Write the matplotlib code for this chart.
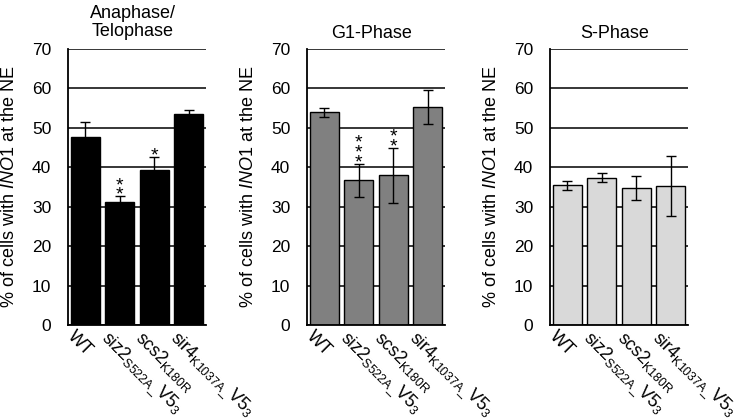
import matplotlib
matplotlib.use("Agg")
import matplotlib.pyplot as plt
import matplotlib.transforms as mtrans

plt.rcParams["font.family"] = ["Liberation Sans", "DejaVu Sans"]
plt.rcParams["mathtext.fontset"] = "custom"
plt.rcParams["mathtext.rm"] = "Liberation Sans"
plt.rcParams["mathtext.it"] = "Liberation Sans:italic"

# data
strains = [
    "WT",
    r"siz2$_\mathregular{S522A\_}$V5$_\mathregular{3}$",
    r"scs2$_\mathregular{K180R}$",
    r"sir4$_\mathregular{K1037A\_}$V5$_\mathregular{3}$",
]
titles = ["Anaphase/\nTelophase", "G1-Phase", "S-Phase"]
ana_vals = [47.6, 31.1, 39.4, 53.4]
ana_err = [3.8, 1.6, 3.2, 1.1]
ana_stars = ["", "**", "*", ""]
g1_vals = [53.9, 36.7, 38.0, 55.3]
g1_err = [1.1, 4.2, 7.0, 4.2]
g1_stars = ["", "***", "**", ""]
s_vals = [35.4, 37.4, 34.7, 35.3]
s_err = [1.2, 1.2, 3.0, 7.6]
s_stars = ["", "", "", ""]

panels = [
    (titles[0], ana_vals, ana_err, ana_stars, "#000000"),
    (titles[1], g1_vals, g1_err, g1_stars, "#808080"),
    (titles[2], s_vals, s_err, s_stars, "#d9d9d9"),
]

fig = plt.figure(figsize=(7.44, 4.19), dpi=100)
lefts = [68, 307, 550]
W, H = 744, 419

for i, (title, vals, errs, stars, color) in enumerate(panels):
    ax = fig.add_axes([lefts[i] / W, 1 - 325 / H, 138 / W, 276 / H])
    x = range(len(strains))
    ax.set_axisbelow(True)
    ax.yaxis.grid(True, color="black", linewidth=1.1)
    ax.bar(x, vals, width=0.84, color=color, edgecolor="black", linewidth=1.0, zorder=2)
    ax.errorbar(x, vals, yerr=errs, fmt="none", ecolor="black", elinewidth=1.0,
                capsize=3.6, capthick=1.0, zorder=3)
    # significance stars stacked above the error caps
    for xi, v, e, s in zip(x, vals, errs, stars):
        if s:
            ax.annotate("\n".join(s), (xi, v + e), xytext=(0, -5.5),
                        textcoords="offset points", ha="center", va="bottom",
                        fontsize=14, linespacing=0.44, zorder=4)
    ax.set_xlim(-0.5, 3.5)
    ax.set_ylim(0, 70)
    ax.set_yticks(range(0, 71, 10))
    ax.tick_params(axis="y", length=0, labelsize=12.5, pad=12)
    ax.tick_params(axis="x", length=0, labelsize=12.8, pad=2)
    ax.set_xticks(list(x))
    ax.set_xticklabels(strains, rotation=-45, ha="left", va="top",
                       rotation_mode="anchor")
    offset = mtrans.ScaledTranslation(-9 / 100, 0, fig.dpi_scale_trans)
    for lab in ax.get_xticklabels():
        lab.set_transform(lab.get_transform() + offset)
    for side in ["top", "right"]:
        ax.spines[side].set_visible(False)
    for side in ["left", "bottom"]:
        ax.spines[side].set_linewidth(1.3)
    ax.set_ylabel(r"% of cells with $\mathit{INO1}$ at the NE", fontsize=13)
    ax.yaxis.set_label_coords(-0.36, 0.5)
    ax.set_title(title, fontsize=13, x=0.47, pad=8 if i else 9,
                 linespacing=1.1)

fig.savefig("out.png", dpi=100)
